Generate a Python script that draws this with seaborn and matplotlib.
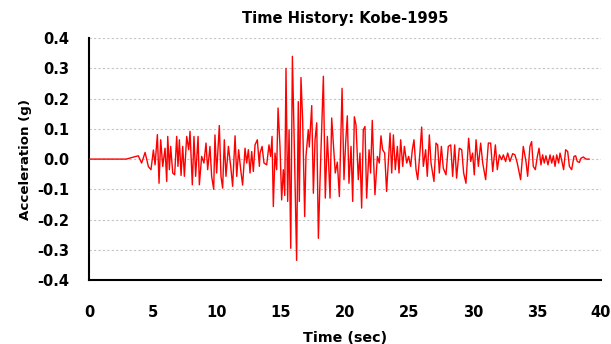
import matplotlib
matplotlib.use("Agg")
import matplotlib.pyplot as plt
from matplotlib.ticker import FormatStrFormatter, MultipleLocator
import seaborn as sns
import pandas as pd

# Time (s) of turning points read from the record
time_s = [0.0, 2.9, 3.85, 4.11, 4.38, 4.64, 4.84, 5.03, 5.16, 5.34, 5.47, 5.60, 5.76, 5.94, 6.07, 6.15,
          6.28, 6.38, 6.54, 6.69, 6.85, 6.95, 7.06, 7.19, 7.32, 7.45, 7.63, 7.79, 7.89, 8.07, 8.20,
          8.33, 8.52, 8.62, 8.80, 8.98, 9.14, 9.27, 9.45, 9.58, 9.74, 9.84, 9.97, 10.18, 10.31, 10.44,
          10.57, 10.70, 10.89, 11.07, 11.22, 11.41, 11.54, 11.69, 11.85, 12.00, 12.19, 12.32, 12.45,
          12.58, 12.71, 12.84, 12.97, 13.15, 13.31, 13.36, 13.52, 13.67, 13.88, 14.06, 14.19, 14.30,
          14.40, 14.53, 14.66, 14.77, 14.92, 15.05, 15.18, 15.29, 15.39, 15.52, 15.63, 15.76, 15.89,
          16.04, 16.22, 16.35, 16.43, 16.56, 16.69, 16.85, 16.95, 17.13, 17.21, 17.40, 17.53, 17.66,
          17.79, 17.92, 18.05, 18.18, 18.31, 18.46, 18.62, 18.72, 18.83, 18.96, 19.09, 19.24, 19.40,
          19.56, 19.77, 19.92, 20.05, 20.18, 20.31, 20.47, 20.60, 20.73, 20.86, 21.04, 21.17, 21.30,
          21.43, 21.56, 21.69, 21.88, 22.00, 22.13, 22.24, 22.34, 22.53, 22.68, 22.81, 22.94, 23.10,
          23.25, 23.41, 23.52, 23.65, 23.78, 23.93, 24.09, 24.22, 24.35, 24.51, 24.64, 24.82, 24.97,
          25.13, 25.26, 25.39, 25.55, 25.68, 25.86, 25.99, 26.12, 26.30, 26.43, 26.59, 26.72, 26.95,
          27.11, 27.24, 27.37, 27.53, 27.68, 27.89, 28.07, 28.26, 28.41, 28.57, 28.72, 28.93, 29.12,
          29.27, 29.45, 29.66, 29.82, 29.97, 30.10, 30.24, 30.42, 30.60, 30.76, 30.99, 31.20, 31.38,
          31.54, 31.75, 31.90, 32.06, 32.24, 32.37, 32.55, 32.71, 32.89, 33.10, 33.28, 33.46, 33.72,
          33.93, 34.14, 34.27, 34.45, 34.58, 34.71, 34.87, 35.03, 35.16, 35.31, 35.44, 35.57, 35.70,
          35.86, 36.02, 36.15, 36.28, 36.41, 36.54, 36.69, 36.80, 36.95, 37.08, 37.24, 37.40, 37.53,
          37.71, 37.89, 38.02, 38.15, 38.31, 38.44, 38.62, 38.83, 39.09]

# Ground acceleration (g) at those points
accel_g = [0.0, 0.0, 0.011, -0.013, 0.022, -0.025, -0.035, 0.030, -0.019, 0.081, -0.080, 0.064, -0.024,
           0.036, -0.074, 0.075, -0.035, 0.042, -0.046, -0.052, 0.075, -0.024, 0.064, -0.054, 0.042,
           -0.057, 0.075, 0.031, 0.092, -0.085, 0.075, -0.057, 0.075, -0.085, 0.009, -0.013, 0.053,
           -0.035, 0.042, -0.057, -0.100, 0.080, -0.046, 0.111, -0.057, -0.096, 0.064, -0.057, 0.042,
           -0.024, -0.090, 0.077, -0.057, 0.031, -0.035, -0.086, 0.036, -0.013, 0.031, -0.046, 0.025,
           -0.041, 0.047, 0.064, -0.024, 0.020, 0.042, -0.013, -0.019, 0.047, 0.009, 0.075, -0.157,
           0.020, -0.035, 0.169, 0.042, -0.135, -0.035, -0.120, 0.300, -0.140, 0.097, -0.295, 0.340,
           0.042, -0.335, 0.190, -0.140, 0.270, 0.130, -0.190, 0.009, 0.097, 0.040, 0.177, -0.113,
           0.064, 0.120, -0.262, -0.068, 0.108, 0.274, -0.129, 0.075, -0.013, -0.129, 0.136, 0.053,
           -0.046, -0.010, -0.124, 0.234, -0.068, 0.053, 0.143, -0.080, 0.042, -0.140, 0.140, 0.113,
           -0.068, 0.020, -0.162, 0.097, 0.108, -0.129, 0.031, -0.046, 0.128, -0.013, -0.118, 0.009,
           -0.013, 0.077, 0.031, 0.020, -0.107, 0.009, 0.086, -0.046, 0.080, -0.035, 0.042, -0.046,
           0.064, -0.024, 0.042, -0.013, 0.009, -0.024, 0.031, 0.064, -0.035, -0.068, 0.025, 0.106,
           -0.024, 0.031, -0.057, 0.080, -0.013, -0.074, 0.053, 0.047, -0.046, 0.042, -0.030, -0.052,
           0.042, 0.047, -0.057, 0.047, -0.063, 0.036, 0.031, -0.046, -0.080, 0.069, -0.008, 0.020,
           -0.052, 0.064, -0.024, 0.053, -0.013, -0.068, 0.053, 0.053, -0.041, 0.047, -0.035, 0.014,
           -0.002, 0.014, -0.008, 0.020, -0.008, 0.018, 0.014, -0.013, -0.068, 0.042, -0.008, -0.057,
           0.042, 0.058, -0.024, -0.035, 0.009, 0.036, -0.019, 0.014, -0.013, 0.011, -0.019, 0.014,
           -0.013, 0.011, -0.024, 0.014, -0.013, 0.020, -0.008, -0.035, 0.031, 0.025, -0.024, -0.035,
           0.009, 0.011, -0.008, -0.011, 0.003, 0.007, 0.0, 0.0]

x_ticks = [0, 5, 10, 15, 20, 25, 30, 35, 40]
title_text = "Time History: Kobe-1995"
x_label = "Time (sec)"
y_label = "Acceleration (g)"

sns.set_style("white")
plt.rcParams["font.family"] = ["DejaVu Sans"]
plt.rcParams["axes.unicode_minus"] = False
plt.rcParams["text.color"] = "black"
plt.rcParams["axes.labelcolor"] = "black"
plt.rcParams["xtick.color"] = "black"
plt.rcParams["ytick.color"] = "black"

df = pd.DataFrame({"t": time_s, "a": accel_g})

fig = plt.figure(figsize=(6.11, 3.44), dpi=100)
ax = fig.add_axes([0.1457, 0.186, 0.8379, 0.703])

ax.yaxis.grid(True, linestyle=(0, (2, 2)), color="#c4c4c4", linewidth=0.8)
ax.set_axisbelow(True)

sns.lineplot(data=df, x="t", y="a", color="#ff0000", linewidth=1.0, ax=ax, zorder=3)

ax.set_xlim(0, 40)
ax.set_ylim(-0.4, 0.4)
ax.set_xticks(x_ticks)
ax.yaxis.set_major_locator(MultipleLocator(0.1))
ax.yaxis.set_major_formatter(FormatStrFormatter("%.1f"))

for s in ["top", "right"]:
    ax.spines[s].set_visible(False)
for s in ["left", "bottom"]:
    ax.spines[s].set_color("black")
    ax.spines[s].set_linewidth(1.5)

ax.tick_params(axis="x", direction="out", length=4, width=1.2, colors="black",
               labelsize=10.5, pad=14)
ax.tick_params(axis="y", direction="out", length=4.5, width=1.2, colors="black",
               labelsize=10.5, pad=9.5)
for lab in ax.get_xticklabels() + ax.get_yticklabels():
    lab.set_fontweight("bold")

ax.set_xlabel(x_label, fontsize=10.3, fontweight="bold", color="black")
ax.xaxis.label.set_va("baseline")
ax.xaxis.set_label_coords(0.5, -0.258)
ax.set_ylabel(y_label, fontsize=9.6, fontweight="bold", color="black")
ax.yaxis.label.set_va("center")
ax.yaxis.set_label_coords(-0.125, 0.5)
ax.set_title(title_text, fontsize=10.6, fontweight="bold", pad=11, color="black")

fig.savefig("out.png", dpi=100)
